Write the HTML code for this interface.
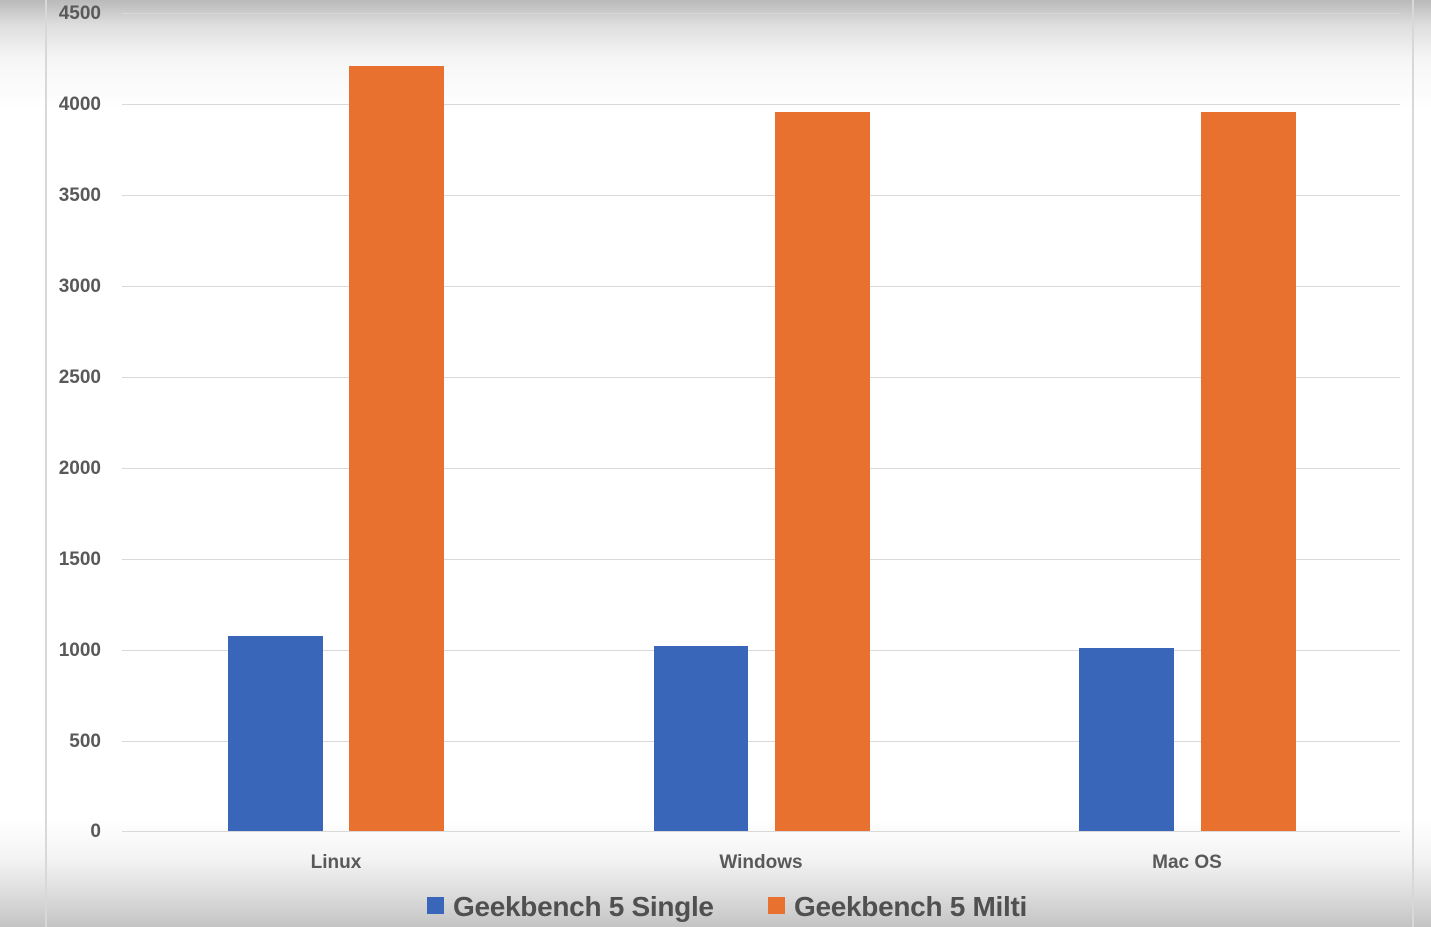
<!DOCTYPE html>
<html><head><style>
html,body{margin:0;padding:0}
body{width:1431px;height:927px;overflow:hidden;position:relative;font-family:"Liberation Sans",sans-serif;
background:linear-gradient(to bottom,#b9b9b9 0px,#dedede 25px,#f6f6f6 60px,#fff 110px,#fff 820px,#f3f3f3 860px,#d8d8d8 900px,#c4c4c4 927px);}
.v{position:absolute;top:0;bottom:0;width:2px;background:#d8d8d8}
.g{position:absolute;left:122px;width:1278px;height:1px;background:#d9d9d9}
.yl{position:absolute;left:0;width:101px;text-align:right;font-size:19px;font-weight:bold;color:#595959;line-height:20px}
.b{position:absolute;bottom:96px}
.bl{background:#3a66b9}
.or{background:#e8712f}
.xl{position:absolute;top:852px;font-size:19px;font-weight:bold;color:#595959;text-align:center;width:200px}
.lg{position:absolute;top:890px;font-size:28px;font-weight:bold;color:#505050;line-height:34px;letter-spacing:-0.3px}
.sq{display:inline-block;width:17px;height:17px;margin-right:9px;vertical-align:2px}
</style></head><body>
<div class="v" style="left:45px"></div>
<div class="v" style="left:1412px"></div>
<div class="g" style="top:13px"></div><div class="yl" style="top:4px">4500</div>
<div class="g" style="top:104px"></div><div class="yl" style="top:95px">4000</div>
<div class="g" style="top:195px"></div><div class="yl" style="top:186px">3500</div>
<div class="g" style="top:286px"></div><div class="yl" style="top:277px">3000</div>
<div class="g" style="top:377px"></div><div class="yl" style="top:368px">2500</div>
<div class="g" style="top:468px"></div><div class="yl" style="top:459px">2000</div>
<div class="g" style="top:559px"></div><div class="yl" style="top:550px">1500</div>
<div class="g" style="top:650px"></div><div class="yl" style="top:641px">1000</div>
<div class="g" style="top:741px"></div><div class="yl" style="top:732px">500</div>
<div class="g" style="top:831px"></div><div class="yl" style="top:822px">0</div>

<div class="b bl" style="left:228px;width:95px;top:636px;height:195px"></div>
<div class="b or" style="left:349px;width:95px;top:66px;height:765px"></div>
<div class="b bl" style="left:654px;width:94px;top:646px;height:185px"></div>
<div class="b or" style="left:775px;width:95px;top:112px;height:719px"></div>
<div class="b bl" style="left:1079px;width:95px;top:648px;height:183px"></div>
<div class="b or" style="left:1201px;width:95px;top:112px;height:719px"></div>

<div class="xl" style="left:236px">Linux</div>
<div class="xl" style="left:661px">Windows</div>
<div class="xl" style="left:1087px">Mac OS</div>

<div class="lg" style="left:427px"><span class="sq" style="background:#3a66b9"></span>Geekbench 5 Single</div>
<div class="lg" style="left:768px"><span class="sq" style="background:#e8712f"></span>Geekbench 5 Milti</div>
</body></html>
